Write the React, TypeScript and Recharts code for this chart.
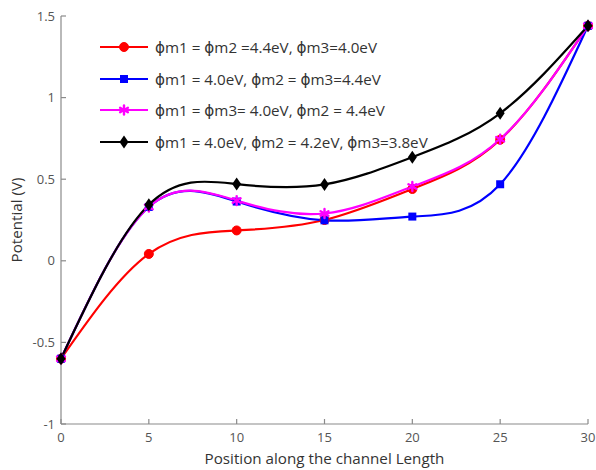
import React from 'react';
import { LineChart, Line, XAxis, YAxis, Legend } from 'recharts';

const positions = [0, 5, 10, 15, 20, 25, 30];
const redSeries = [-0.6, 0.042, 0.186, 0.25, 0.44, 0.742, 1.44];
const blueSeries = [-0.6, 0.33, 0.363, 0.248, 0.271, 0.469, 1.44];
const magentaSeries = [-0.6, 0.33, 0.369, 0.29, 0.455, 0.745, 1.44];
const blackSeries = [-0.6, 0.343, 0.47, 0.468, 0.635, 0.904, 1.44];

const xTicks = [0, 5, 10, 15, 20, 25, 30];
const yTicks = [-1, -0.5, 0, 0.5, 1, 1.5];

const seriesNames = [
  'ϕm1 = ϕm2 =4.4eV, ϕm3=4.0eV',
  'ϕm1 = 4.0eV, ϕm2 = ϕm3=4.4eV',
  'ϕm1 = ϕm3= 4.0eV, ϕm2 = 4.4eV',
  'ϕm1 = 4.0eV, ϕm2 = 4.2eV, ϕm3=3.8eV',
];

const data = positions.map((x, i) => ({
  x,
  red: redSeries[i],
  blue: blueSeries[i],
  magenta: magentaSeries[i],
  black: blackSeries[i],
}));

const FONT = '"Open Sans", "DejaVu Sans", sans-serif';
const AXIS = '#8a8a8a';
const TICKTXT = '#555555';

type Shape = 'circle' | 'square' | 'star' | 'diamond';

const Marker = ({ cx, cy, shape, color }: { cx: number; cy: number; shape: Shape; color: string }) => {
  if (cx == null || cy == null) return null;
  if (shape === 'circle') return <circle cx={cx} cy={cy} r={4.5} fill={color} stroke={color} />;
  if (shape === 'square') return <rect x={cx - 4} y={cy - 4} width={8} height={8} fill={color} />;
  if (shape === 'diamond')
    return (
      <polygon
        points={`${cx},${cy - 6.5} ${cx + 4.5},${cy} ${cx},${cy + 6.5} ${cx - 4.5},${cy}`}
        fill={color}
      />
    );
  const s = 4.5;
  const d = s * 0.87;
  return (
    <g stroke={color} strokeWidth={2.4} strokeLinecap="round">
      <line x1={cx} y1={cy - s} x2={cx} y2={cy + s} />
      <line x1={cx - d} y1={cy - s / 2} x2={cx + d} y2={cy + s / 2} />
      <line x1={cx - d} y1={cy + s / 2} x2={cx + d} y2={cy - s / 2} />
    </g>
  );
};

const series: { key: string; color: string; shape: Shape; name: string }[] = [
  { key: 'red', color: '#ff0000', shape: 'circle', name: seriesNames[0] },
  { key: 'blue', color: '#0000ff', shape: 'square', name: seriesNames[1] },
  { key: 'magenta', color: '#ff00ff', shape: 'star', name: seriesNames[2] },
  { key: 'black', color: '#000000', shape: 'diamond', name: seriesNames[3] },
];

const BottomTick = (props: any) => {
  const { x, y, payload } = props;
  const axisY = y - 6;
  return (
    <g>
      <line x1={x} x2={x} y1={axisY} y2={axisY - 5} stroke={AXIS} strokeWidth={1.2} />
      <text x={x} y={axisY + 18} textAnchor="middle" fontSize={13} fill={TICKTXT} fontFamily={FONT}>
        {payload.value}
      </text>
    </g>
  );
};

const TopTick = (props: any) => {
  const { x, y } = props;
  return <line x1={x} x2={x} y1={y} y2={y + 5} stroke={AXIS} strokeWidth={1.2} />;
};

const LeftTick = (props: any) => {
  const { x, y, payload } = props;
  const axisX = x + 6;
  return (
    <g>
      <line x1={axisX} x2={axisX + 5} y1={y} y2={y} stroke={AXIS} strokeWidth={1.2} />
      <text x={axisX - 6} y={y + 4.5} textAnchor="end" fontSize={13} fill={TICKTXT} fontFamily={FONT}>
        {payload.value}
      </text>
    </g>
  );
};

const RightTick = (props: any) => {
  const { x, y } = props;
  return <line x1={x} x2={x - 5} y1={y} y2={y} stroke={AXIS} strokeWidth={1.2} />;
};

const LegendContent = (props: any) => {
  const payload = props.payload || [];
  return (
    <div style={{ fontFamily: FONT, fontSize: 15.2, color: '#333' }}>
      {series.map((s, i) => {
        const entry = payload.find((q: any) => q.dataKey === s.key);
        const label = entry ? entry.value : s.name;
        return (
          <div key={i} style={{ display: 'flex', alignItems: 'center', height: 31.7 }}>
            <svg width={50} height={16} style={{ display: 'block' }}>
              <line x1={1} x2={49} y1={8} y2={8} stroke={s.color} strokeWidth={2.2} />
              <Marker cx={25} cy={8} shape={s.shape} color={s.color} />
            </svg>
            <span style={{ marginLeft: 6, whiteSpace: 'nowrap' }}>{label}</span>
          </div>
        );
      })}
    </div>
  );
};

export default function App() {
  return (
    <div style={{ position: 'absolute', left: 0, top: 0, width: 596, height: 470, background: '#fff' }}>
      <LineChart width={596} height={470} data={data} margin={{ top: 16, right: 8, bottom: 0, left: 0 }}>
        <XAxis
          dataKey="x"
          type="number"
          domain={[0, 30]}
          ticks={xTicks}
          interval={0}
          tickSize={0}
          tickMargin={6}
          height={46}
          stroke={AXIS}
          strokeWidth={1.2}
          tick={(p: any) => <BottomTick {...p} />}
          label={{
            value: 'Position along the channel Length',
            position: 'insideBottom',
            offset: 6,
            fontSize: 15.2,
            fill: '#333',
            fontFamily: FONT,
          }}
        />
        <XAxis
          xAxisId="top"
          orientation="top"
          dataKey="x"
          type="number"
          domain={[0, 30]}
          ticks={xTicks}
          interval={0}
          tickSize={0}
          tickMargin={0}
          height={0}
          stroke={AXIS}
          strokeWidth={1.2}
          tick={(p: any) => <TopTick {...p} />}
        />
        <YAxis
          type="number"
          domain={[-1, 1.5]}
          ticks={yTicks}
          interval={0}
          tickSize={0}
          tickMargin={6}
          width={61}
          stroke={AXIS}
          strokeWidth={1.2}
          tick={(p: any) => <LeftTick {...p} />}
          label={{
            content: (lp: any) => {
              const vb = lp.viewBox || { x: 0, y: 16, width: 61, height: 408 };
              const cx = vb.x + 16;
              const cy = vb.y + vb.height / 2;
              return (
                <text
                  x={cx}
                  y={cy}
                  transform={`rotate(-90 ${cx} ${cy})`}
                  textAnchor="middle"
                  dominantBaseline="central"
                  fontSize={15.2}
                  fill="#333"
                  fontFamily={FONT}
                >
                  Potential (V)
                </text>
              );
            },
          }}
        />
        <YAxis
          yAxisId="right"
          orientation="right"
          type="number"
          domain={[-1, 1.5]}
          ticks={yTicks}
          interval={0}
          tickSize={0}
          tickMargin={0}
          width={0}
          stroke={AXIS}
          strokeWidth={1.2}
          tick={(p: any) => <RightTick {...p} />}
        />
        <Legend
          layout="vertical"
          align="center"
          verticalAlign="middle"
          content={(p: any) => <LegendContent {...p} />}
          wrapperStyle={{ left: 99, top: 31, width: 340, height: 130 }}
        />
        {series.map((s) => (
          <Line
            key={s.key}
            dataKey={s.key}
            name={s.name}
            type="natural"
            stroke={s.color}
            strokeWidth={2.2}
            isAnimationActive={false}
            dot={(p: any) => <Marker key={`${s.key}-${p.index}`} cx={p.cx} cy={p.cy} shape={s.shape} color={s.color} />}
            activeDot={false}
          />
        ))}
      </LineChart>
    </div>
  );
}
